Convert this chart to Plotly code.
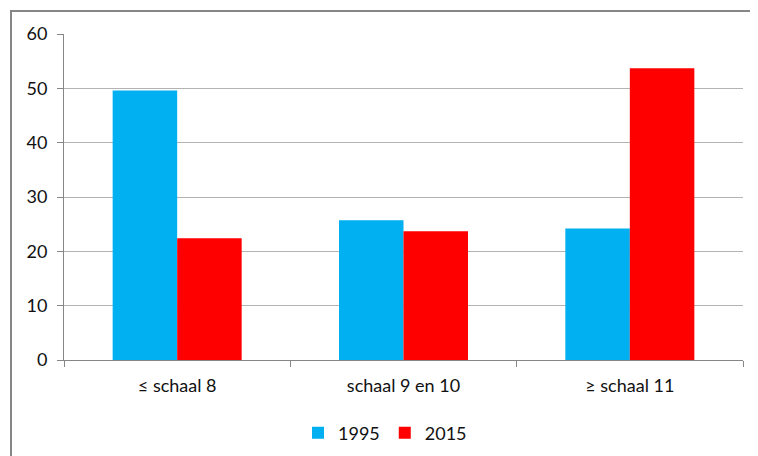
import plotly.graph_objects as go

categories = ["≤ schaal 8", "schaal 9 en 10", "≥ schaal 11"]
series_names = ["1995", "2015"]
values_1995 = [49.6, 25.7, 24.2]
values_2015 = [22.4, 23.7, 53.7]
y_ticks = [0, 10, 20, 30, 40, 50, 60]

colors = ["#00B0F0", "#FF0000"]

fig = go.Figure()
for name, vals, col in zip(series_names, [values_1995, values_2015], colors):
    fig.add_trace(go.Bar(x=categories, y=vals, name=name,
                         marker=dict(color=col, line=dict(width=0))))

OFF = 8  # page body margin
W, H = 758 - OFF, 456 - OFF
L, R, T, B = 64 - OFF, 15, 34 - OFF, 96
pw, ph = W - L - R, H - T - B

def px_x(p):
    return (p - OFF - L) / pw

def px_y(p):
    return (H - B - (p - OFF)) / ph

fig.update_layout(
    width=W, height=H,
    margin=dict(l=L, r=R, t=T, b=B, autoexpand=False),
    paper_bgcolor="white", plot_bgcolor="white",
    barmode="group", bargap=0.43, bargroupgap=0,
    font=dict(family="Lato, Open Sans, sans-serif", size=18, color="#111111"),
    showlegend=True,
    legend=dict(orientation="h", x=px_x(385), xanchor="center",
                y=px_y(433), yanchor="middle",
                font=dict(size=18), itemwidth=30, traceorder="normal"),
    xaxis=dict(showgrid=False, showline=True, linecolor="#868686", linewidth=1,
               ticks="outside", ticklen=6, tickcolor="#868686", tickson="boundaries",
               tickfont=dict(size=18), automargin=False, ticklabelstandoff=9),
    yaxis=dict(range=[0, 60], tickvals=y_ticks, showgrid=True, gridcolor="#B3B3B3",
               gridwidth=1, showline=True, linecolor="#868686", linewidth=1,
               ticks="outside", ticklen=6, tickcolor="#868686", zeroline=False,
               tickfont=dict(size=18), automargin=False, ticklabelstandoff=6),
    shapes=[dict(type="rect", xref="paper", yref="paper",
                 x0=px_x(11), x1=px_x(775), y0=px_y(475), y1=px_y(11),
                 line=dict(color="#868686", width=2), fillcolor="rgba(0,0,0,0)",
                 layer="below")],
)

fig.write_html("out.html")
